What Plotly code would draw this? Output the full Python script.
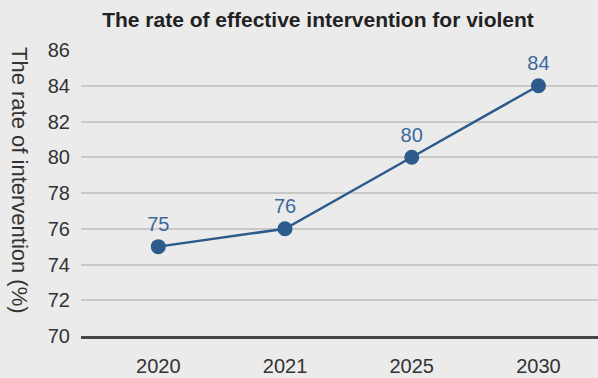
import plotly.graph_objects as go

years = ["2020", "2021", "2025", "2030"]
rates = [75, 76, 80, 84]
yticks = [70, 72, 74, 76, 78, 80, 82, 84, 86]

title_text = "The rate of effective intervention for violent"
ytitle_text = "The rate of intervention (%)"

line_color = "#2d5b8c"
bg = "#ebebeb"
font_family = "Liberation Sans, Arial, sans-serif"

fig = go.Figure()
fig.add_trace(go.Scatter(
    x=years, y=rates, mode="lines+markers+text",
    text=[str(v) for v in rates], textposition="top center",
    textfont=dict(size=20, color="#3b6a9c", family=font_family),
    line=dict(color=line_color, width=2.5),
    marker=dict(size=15, color=line_color),
    cliponaxis=False, showlegend=False,
))

fig.update_layout(
    width=598, height=378,
    paper_bgcolor=bg, plot_bgcolor=bg,
    margin=dict(l=81, r=0, t=50, b=42, autoexpand=False),
    title=dict(text="<b>" + title_text + "</b>", x=318/598, xanchor="center",
               y=1 - 20/378, yanchor="middle", yref="container",
               font=dict(size=21, color="#222222", family=font_family)),
    font=dict(family=font_family),
    xaxis=dict(type="category", range=[-0.61, 3.47], showgrid=False,
               showline=True, linecolor="#454545", linewidth=2.5,
               ticks="", tickfont=dict(size=20, color="#333333"),
               ticklabelstandoff=10, zeroline=False, fixedrange=True,
               automargin=False),
    yaxis=dict(range=[70, 86], tickvals=yticks, showgrid=True,
               gridcolor="#c9c9c9", gridwidth=1.5, showline=False, zeroline=False,
               ticks="", tickfont=dict(size=20, color="#333333"),
               ticklabelstandoff=10, fixedrange=True, automargin=False),
    annotations=[dict(text=ytitle_text, x=(20 - 81) / 517, xanchor="center",
                      xref="paper", y=(336 - 180) / 286, yref="paper",
                      yanchor="middle",
                      showarrow=False, textangle=90,
                      font=dict(size=22, color="#333333", family=font_family))],
)

fig.write_html(
    "out.html",
    config={"displayModeBar": False},
    post_script="document.body.style.margin='0';document.body.style.overflow='hidden';"
                "document.body.style.background='#ebebeb';",
)
